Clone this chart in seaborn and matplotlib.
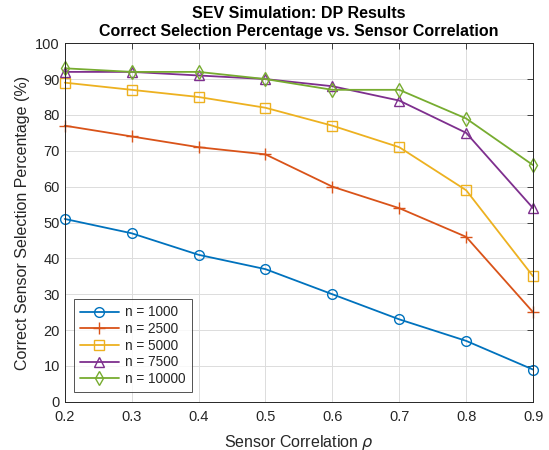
import matplotlib
matplotlib.use("Agg")
import matplotlib.pyplot as plt
import seaborn as sns
import pandas as pd

rho = [0.2, 0.3, 0.4, 0.5, 0.6, 0.7, 0.8, 0.9]
n1000 = [51, 47, 41, 37, 30, 23, 17, 9]
n2500 = [77, 74, 71, 69, 60, 54, 46, 25]
n5000 = [89, 87, 85, 82, 77, 71, 59, 35]
n7500 = [92, 92, 91, 90, 88, 84, 75, 54]
n10000 = [93, 92, 92, 90, 87, 87, 79, 66]
labels = ["n = 1000", "n = 2500", "n = 5000", "n = 7500", "n = 10000"]
series = [n1000, n2500, n5000, n7500, n10000]
colors = ["#0072BD", "#D95319", "#EDB120", "#7E2F8E", "#77AC30"]
markers = ["o", "+", "s", "^", "d"]

sns.set_style("white")
plt.rcParams['font.family'] = ['Liberation Sans', 'DejaVu Sans']

fig = plt.figure(figsize=(5.49, 4.5), dpi=100)
ax = fig.add_axes([0.118, 0.107, 0.853, 0.797])

for lab, vals, c, m in zip(labels, series, colors, markers):
    df = pd.DataFrame({"rho": rho, "val": vals})
    sns.lineplot(data=df, x="rho", y="val", ax=ax, color=c, marker=m,
                 markersize=7 if m != "+" else 8, markerfacecolor="none",
                 markeredgecolor=c, markeredgewidth=1.0, linewidth=1.3, label=lab,
                 clip_on=False)

ax.set_xlim(0.2, 0.9)
ax.set_ylim(0, 100)
ax.set_xticks([0.2, 0.3, 0.4, 0.5, 0.6, 0.7, 0.8, 0.9])
ax.set_xticklabels(["0.2", "0.3", "0.4", "0.5", "0.6", "0.7", "0.8", "0.9"])
ax.set_yticks(range(0, 101, 10))
ax.grid(True, color="#dcdcdc", linewidth=0.7)
ax.tick_params(direction="in", length=4, color="#262626", labelsize=10.5,
               labelcolor="#262626", top=True, right=True, width=0.6)
ax.tick_params(axis="x", pad=6)
for s in ax.spines.values():
    s.set_color("#262626")
    s.set_linewidth(0.7)
ax.set_xlabel(r"Sensor Correlation $\rho$", fontsize=11.5, color="#262626", labelpad=6)
ax.set_ylabel("Correct Sensor Selection Percentage (%)", fontsize=11.5, color="#262626")
ax.set_title("SEV Simulation: DP Results\nCorrect Selection Percentage vs. Sensor Correlation",
             fontsize=11.5, fontweight="bold", color="black", pad=5, linespacing=1.25)
leg = ax.legend(loc="lower left", fontsize=9.8, frameon=True, fancybox=False,
                edgecolor="#262626", handlelength=2.8, borderpad=0.45,
                labelspacing=0.2, borderaxespad=0.7, handletextpad=0.5)
leg.get_frame().set_linewidth(0.7)

fig.savefig("out.png", dpi=100)
